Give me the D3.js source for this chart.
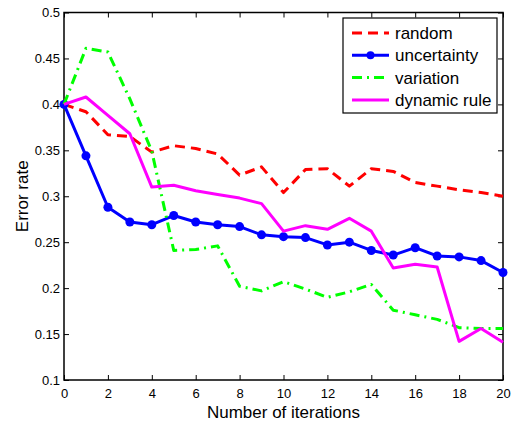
<!DOCTYPE html>
<html>
<head>
<meta charset="utf-8">
<script src="https://cdn.jsdelivr.net/npm/d3@7"></script>
<style>
  body { margin: 0; background: #fff; }
  svg { display: block; font-family: "Liberation Sans", Arial, sans-serif; }
</style>
</head>
<body>
<div id="chart"></div>
<script>
// Data
const iterations = d3.range(0, 21);
const randomErr = [0.400, 0.392, 0.367, 0.365, 0.348, 0.355, 0.352, 0.346, 0.323, 0.332, 0.304,
                   0.329, 0.330, 0.311, 0.330, 0.327, 0.315, 0.311, 0.307, 0.304, 0.300];
const uncertaintyErr = [0.400, 0.344, 0.288, 0.272, 0.269, 0.279, 0.272, 0.269, 0.267, 0.258, 0.256,
                        0.255, 0.247, 0.250, 0.241, 0.236, 0.244, 0.235, 0.234, 0.230, 0.217];
const variationErr = [0.400, 0.461, 0.457, 0.406, 0.349, 0.241, 0.242, 0.246, 0.202, 0.197, 0.207,
                      0.199, 0.190, 0.196, 0.204, 0.176, 0.171, 0.166, 0.157, 0.156, 0.156];
const dynamicErr = [0.400, 0.408, 0.388, 0.368, 0.310, 0.312, 0.306, 0.302, 0.298, 0.292, 0.262,
                    0.268, 0.264, 0.276, 0.262, 0.222, 0.226, 0.223, 0.142, 0.156, 0.141];
const xTicks = [0, 2, 4, 6, 8, 10, 12, 14, 16, 18, 20];
const yTicks = [0.1, 0.15, 0.2, 0.25, 0.3, 0.35, 0.4, 0.45, 0.5];

const series = [
  { name: "random", values: randomErr, color: "#ff0000", dash: "10,6", marker: false },
  { name: "uncertainty", values: uncertaintyErr, color: "#0000ff", dash: null, marker: true },
  { name: "variation", values: variationErr, color: "#00ff00", dash: "10,5,2,5", marker: false },
  { name: "dynamic rule", values: dynamicErr, color: "#ff00ff", dash: null, marker: false }
];

const W = 514, H = 422;
const margin = { top: 12.5, right: 11, bottom: 42, left: 64 };

const svg = d3.select("#chart").append("svg")
  .attr("width", W).attr("height", H);

const x = d3.scaleLinear().domain([0, 20]).range([margin.left, W - margin.right]);
const y = d3.scaleLinear().domain([0.1, 0.5]).range([H - margin.bottom, margin.top]);

const fmt = d => String(d);

// Axes (MATLAB style: ticks inward on all four sides)
const tickLen = 5;
svg.append("g")
  .attr("transform", `translate(0,${y(0.1)})`)
  .call(d3.axisBottom(x).tickValues(xTicks).tickFormat(fmt).tickSizeInner(-tickLen).tickSizeOuter(0).tickPadding(9))
  .call(g => g.select(".domain").remove());
svg.append("g")
  .attr("transform", `translate(0,${y(0.5)})`)
  .call(d3.axisTop(x).tickValues(xTicks).tickFormat("").tickSizeInner(-tickLen).tickSizeOuter(0))
  .call(g => g.select(".domain").remove());
svg.append("g")
  .attr("transform", `translate(${x(0)},0)`)
  .call(d3.axisLeft(y).tickValues(yTicks).tickFormat(fmt).tickSizeInner(-tickLen).tickSizeOuter(0).tickPadding(4))
  .call(g => g.select(".domain").remove());
svg.append("g")
  .attr("transform", `translate(${x(20)},0)`)
  .call(d3.axisRight(y).tickValues(yTicks).tickFormat("").tickSizeInner(-tickLen).tickSizeOuter(0))
  .call(g => g.select(".domain").remove());

svg.selectAll(".tick text").attr("fill", "#000").style("font-size", "13px")
  .style("font-family", "'Liberation Sans', Arial, sans-serif");
svg.selectAll(".tick line").attr("stroke", "#000");

// Plot box
svg.append("rect")
  .attr("x", x(0)).attr("y", y(0.5))
  .attr("width", x(20) - x(0)).attr("height", y(0.1) - y(0.5))
  .attr("fill", "none").attr("stroke", "#000").attr("stroke-width", 1.5);

// Lines
const line = d3.line().x((d, i) => x(iterations[i])).y(d => y(d));
series.forEach(s => {
  svg.append("path")
    .datum(s.values)
    .attr("fill", "none")
    .attr("stroke", s.color)
    .attr("stroke-width", 3)
    .attr("stroke-dasharray", s.dash)
    .attr("stroke-linejoin", "round")
    .attr("d", line);
  if (s.marker) {
    svg.selectAll(null).data(s.values).enter().append("circle")
      .attr("cx", (d, i) => x(iterations[i]))
      .attr("cy", d => y(d))
      .attr("r", 4.5)
      .attr("fill", s.color);
  }
});

// Axis titles
svg.append("text")
  .attr("x", (x(0) + x(20)) / 2).attr("y", 418)
  .attr("text-anchor", "middle").style("font-size", "17px")
  .text("Number of iterations");
svg.append("text")
  .attr("transform", `translate(28,${(y(0.1) + y(0.5)) / 2}) rotate(-90)`)
  .attr("text-anchor", "middle").style("font-size", "17px")
  .text("Error rate");

// Legend
const lg = svg.append("g").attr("transform", "translate(343,18)");
lg.append("rect").attr("width", 154).attr("height", 95)
  .attr("fill", "#fff").attr("stroke", "#000").attr("stroke-width", 1.2);
series.forEach((s, i) => {
  const cy = 15 + i * 22.3;
  lg.append("line")
    .attr("x1", 9).attr("x2", 46).attr("y1", cy).attr("y2", cy)
    .attr("stroke", s.color).attr("stroke-width", 3)
    .attr("stroke-dasharray", s.dash);
  if (s.marker) {
    lg.append("circle").attr("cx", 27.5).attr("cy", cy).attr("r", 4).attr("fill", s.color);
  }
  lg.append("text")
    .attr("x", 52).attr("y", cy + 6)
    .style("font-size", "17px")
    .text(s.name);
});
</script>
</body>
</html>
